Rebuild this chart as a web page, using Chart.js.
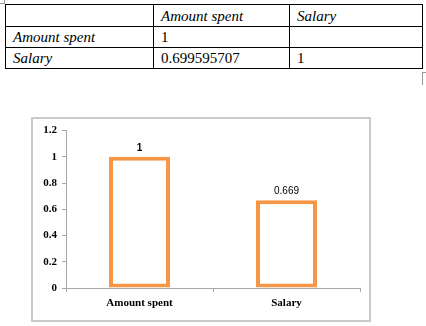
<!DOCTYPE html>
<html>
<head>
<meta charset="utf-8">
<script src="https://cdn.jsdelivr.net/npm/chart.js@4"></script>
<style>
  html, body { margin: 0; padding: 0; background: #fff; width: 426px; height: 326px; overflow: hidden; }
  #tbl { position: absolute; left: 5px; top: 4px; border-collapse: collapse; font-family: "Liberation Serif", "Times New Roman", serif; font-size: 15px; color: #000; }
  #tbl td { border: 1px solid #000; padding: 0 0 0 7px; height: 20px; line-height: 18px; vertical-align: middle; white-space: nowrap; }
  #tbl td.it { font-style: italic; }
  #box { position: absolute; left: 31px; top: 117px; width: 336px; height: 201px; border: 2px solid #cacaca; }
  #box canvas { position: absolute; left: 0; top: 0; }
  .mk { position: absolute; background: #9a9a9a; }
</style>
</head>
<body>
<table id="tbl"></table>
<div class="mk" style="left:0;top:3px;width:4px;height:1px"></div>
<div class="mk" style="left:4px;top:0;width:1px;height:4px"></div>
<div class="mk" style="left:422px;top:72px;width:4px;height:1px"></div>
<div class="mk" style="left:422px;top:72px;width:1px;height:13px"></div>
<div id="box"><canvas id="c" width="336" height="201"></canvas></div>
<script>
// ---- data ----
const tableHeader = ["", "Amount spent", "Salary"];
const tableRowLabels = ["Amount spent", "Salary"];
const tableRowValues = [["1", ""], ["0.699595707", "1"]];

const categories = ["Amount spent", "Salary"];
const values = [1, 0.669];
const valueLabels = ["1", "0.669"];
const yTickValues = [0, 0.2, 0.4, 0.6, 0.8, 1, 1.2];
const yTickLabels = ["0", "0.2", "0.4", "0.6", "0.8", "1", "1.2"];

// ---- table ----
(function buildTable() {
  const t = document.getElementById('tbl');
  const widths = [140, 128, 125];
  const heights = [21, 20, 20];
  const hr = document.createElement('tr');
  tableHeader.forEach((h, i) => {
    const td = document.createElement('td');
    td.className = 'it';
    td.textContent = h;
    td.style.width = widths[i] + 'px';
    td.style.height = heights[0] + 'px';
    hr.appendChild(td);
  });
  t.appendChild(hr);
  tableRowLabels.forEach((lab, r) => {
    const tr = document.createElement('tr');
    const td0 = document.createElement('td');
    td0.className = 'it';
    td0.textContent = lab;
    td0.style.height = heights[r + 1] + 'px';
    tr.appendChild(td0);
    tableRowValues[r].forEach(v => {
      const td = document.createElement('td');
      td.textContent = v;
      tr.appendChild(td);
    });
    t.appendChild(tr);
  });
})();

// ---- chart ----
const valueLabelPlugin = {
  id: 'valueLabels',
  afterDatasetsDraw(chart) {
    const ctx = chart.ctx;
    const meta = chart.getDatasetMeta(0);
    ctx.save();
    ctx.fillStyle = '#000';
    ctx.textAlign = 'center';
    ctx.textBaseline = 'middle';
    meta.data.forEach((bar, i) => {
      ctx.font = (i === 0 ? 'bold ' : '') + '10px "Liberation Sans", Arial, sans-serif';
      ctx.fillText(valueLabels[i], bar.x, bar.y - 9);
    });
    ctx.restore();
  }
};

const axisColor = '#a8a8a8';
const tickFont = { family: '"Liberation Serif", "Times New Roman", serif', size: 11, weight: 'bold' };
new Chart(document.getElementById('c'), {
  type: 'bar',
  data: {
    labels: categories,
    datasets: [{
      data: values,
      backgroundColor: '#ffffff',
      borderColor: '#F79646',
      borderWidth: 4,
      borderSkipped: false,
      categoryPercentage: 1,
      barPercentage: 0.415
    }]
  },
  options: {
    responsive: false,
    animation: false,
    events: [],
    layout: { padding: { top: 10, right: 9, left: 0, bottom: 0 } },
    plugins: { legend: { display: false }, tooltip: { enabled: false } },
    scales: {
      x: {
        grid: { display: true, drawOnChartArea: false, drawTicks: true, tickLength: 4, color: axisColor, offset: true },
        border: { display: true, color: axisColor },
        ticks: { color: '#000', padding: 5, font: tickFont },
        afterFit(s) { s.height = 32; }
      },
      y: {
        min: 0,
        max: 1.2,
        afterBuildTicks(s) { s.ticks = yTickValues.map(v => ({ value: v })); },
        grid: { display: true, drawOnChartArea: false, drawTicks: true, tickLength: 4, color: axisColor },
        border: { display: true, color: axisColor },
        ticks: {
          color: '#000', padding: 5,
          font: tickFont,
          callback(value, index) { return yTickLabels[index]; }
        },
        afterFit(s) { s.width = 33; }
      }
    }
  },
  plugins: [valueLabelPlugin]
});
</script>
</body>
</html>
